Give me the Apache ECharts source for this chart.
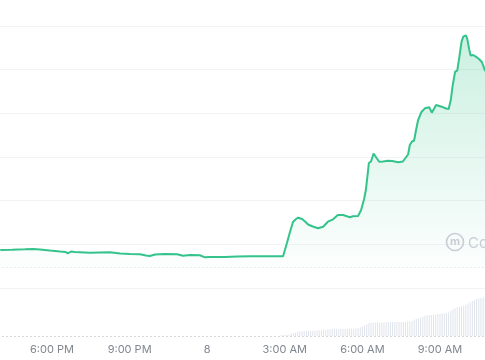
<!DOCTYPE html>
<html><head><meta charset="utf-8">
<script src="https://cdn.jsdelivr.net/npm/echarts@6/dist/echarts.min.js"></script>
<style>html,body{margin:0;padding:0;background:#fff}#c{width:485px;height:360px}</style>
</head><body><div id="c"></div>
<script>
// Price series (times on day 7 rolling into day 8)
const priceTimes = ['16:00','16:27','16:57','17:16','17:32','17:55','18:19','18:32','18:37','18:44','18:53','19:28','19:51','20:14','20:38','21:01','21:24','21:38','21:47','21:59','22:22','22:50','23:04','23:20','23:43','23:55',
'00:06','00:41','01:09','01:39','02:14','02:56','03:00','03:05','03:12','03:19','03:26','03:31','03:40','03:47','03:54','04:05','04:17','04:29','04:40','04:52','05:03','05:15','05:24','05:31','05:38','05:50','05:57',
'06:04','06:08','06:12','06:15','06:20','06:26','06:32','06:39','06:48','06:59','07:09','07:13','07:23','07:34','07:39','07:46','07:50','07:55','08:00','08:04','08:09','08:17','08:25','08:35','08:41','08:51',
'09:04','09:14','09:20','09:25','09:29','09:35','09:40','09:45','09:50','09:54','10:00','10:03','10:08','10:11','10:17','10:23','10:31','10:37','10:44','10:56'];
const prices = [98.70,98.77,98.86,98.93,98.82,98.59,98.36,98.24,97.95,98.36,98.24,98.08,98.13,98.18,97.90,97.79,97.72,97.44,97.33,97.67,97.79,97.74,97.40,97.56,97.51,97.03,
97.10,97.10,97.21,97.26,97.26,97.26,97.56,100.31,102.82,105.11,105.80,106.10,105.80,105.23,104.54,104.08,103.67,104.04,105.18,105.73,106.72,106.72,106.42,106.19,106.44,106.49,107.86,
110.38,112.44,115.88,118.63,118.97,120.80,119.89,118.92,118.97,119.15,119.08,118.63,118.79,118.97,119.66,120.57,122.75,123.55,123.78,125.95,128.36,130.31,131.15,131.38,130.15,131.91,
131.52,131.11,130.99,133.05,136.10,139.53,139.76,142.97,146.41,147.55,147.87,147.18,144.50,143.24,143.36,143.01,142.37,141.76,139.92,138.09];
const openPrice = 94.81;

// Volume bars: 5-minute buckets starting 02:50 on day 8
const volStart = '02:50';
const volStepMinutes = 5;
const volumes = [1,2,2,3,3,5,6,7,9,10,10,10,11,11,11,11,11,12,12,12,
13,13,14,14,14,14,14,14,15,15,15,15,15,15,15,16,16,18,20,22,25,
27,27,28,28,28,28,28,28,29,29,29,29,29,29,29,29,29,29,30,30,31,
34,36,37,38,40,42,43,44,44,45,45,46,46,47,47,48,49,
52,55,58,60,61,62,63,65,68,71,73,75,77,78,79,80,80,81,81];

function hm(s){const p=s.split(':');return +p[0]+(+p[1])/60;}
const priceData=[];{let prev=-1,off=0;priceTimes.forEach((t,i)=>{let h=hm(t);if(h<prev)off=24;prev=h;priceData.push([h+off,prices[i]]);});}
const volData=volumes.map((v,i)=>[24+hm(volStart)+i*volStepMinutes/60,v]);

function fmt(v){const h=((v%24)+24)%24;if(h===0)return '8';const hr=h%12||12;return hr+':00 '+(h<12?'AM':'PM');}

const green='#33c38b';
const chart=echarts.init(document.getElementById('c'),null,{renderer:'canvas'});
chart.setOption({
  animation:false,
  backgroundColor:'#ffffff',
  grid:[{left:-25.6,right:-32.6,top:26,height:262,outerBoundsMode:'none',containLabel:false},
        {left:-25.6,right:-32.6,top:288,height:48,outerBoundsMode:'none',containLabel:false}],
  xAxis:[
    {type:'value',gridIndex:0,min:15,max:36,interval:3,show:false},
    {type:'value',gridIndex:1,min:15,max:36,interval:3,
     axisLine:{show:true,lineStyle:{type:[1,3],color:'#cfd3d9',width:1}},
     axisTick:{show:false},splitLine:{show:false},
     axisLabel:{formatter:fmt,color:'#80868f',fontSize:11,margin:8,fontFamily:'Inter'}}
  ],
  yAxis:[
    {type:'value',gridIndex:0,min:90,max:150,interval:10,axisLabel:{show:false},axisLine:{show:false},axisTick:{show:false},
     splitLine:{show:true,lineStyle:{color:'#f2f3f5',width:1}}},
    {type:'value',gridIndex:1,min:0,max:100,show:false,splitLine:{show:false}}
  ],
  series:[
    {type:'line',xAxisIndex:0,yAxisIndex:0,data:priceData,showSymbol:false,symbol:'none',
     lineStyle:{color:green,width:2},
     areaStyle:{origin:openPrice,color:new echarts.graphic.LinearGradient(0,0,0,1,[{offset:0,color:'rgba(51,195,139,0.36)'},{offset:1,color:'rgba(51,195,139,0.02)'}])},
     markLine:{silent:true,symbol:'none',label:{show:false},lineStyle:{type:[1,3],color:'#cfd3d9',width:1},data:[{yAxis:openPrice}]}},
    {type:'bar',xAxisIndex:1,yAxisIndex:1,data:volData,barWidth:1,itemStyle:{color:'#e0e4ec'}}
  ],
  graphic:[
    {type:'circle',shape:{cx:455,cy:242,r:8.5},style:{fill:'none',stroke:'#c9cdd4',lineWidth:1.6},z:100},
    {type:'text',x:455,y:242,style:{text:'m',fill:'#c9cdd4',font:'bold 11px Inter',align:'center',verticalAlign:'middle'},z:100},
    {type:'text',x:468,y:243,style:{text:'CoinGecko',fill:'#c9cdd4',font:'15px Inter',verticalAlign:'middle'},z:100}
  ]
});
</script></body></html>
